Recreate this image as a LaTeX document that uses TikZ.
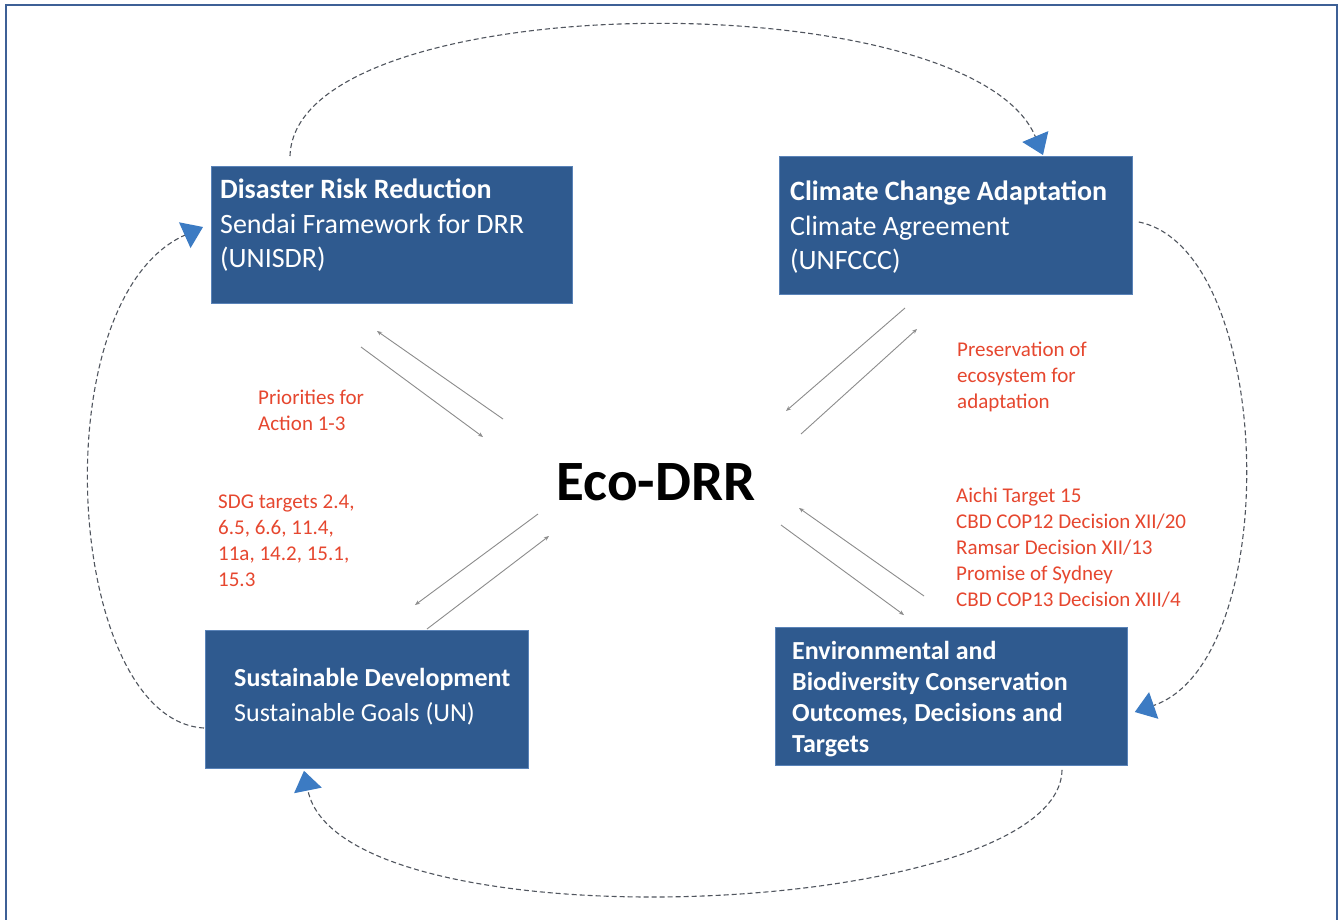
\documentclass[tikz,border=0pt]{standalone}
\usepackage{fontspec}
\setmainfont{Carlito}
\usetikzlibrary{arrows.meta,calc}
\definecolor{boxblue}{HTML}{2F5A8F}
\definecolor{boxedge}{HTML}{5A83B8}
\definecolor{framecol}{HTML}{3D6096}
\definecolor{redtxt}{HTML}{E6472F}
\definecolor{tipblue}{HTML}{3C7BC3}
\definecolor{dashcol}{HTML}{50555E}
\definecolor{graycon}{HTML}{8C8C8C}
\begin{document}
\begin{tikzpicture}[x=1pt,y=-1pt,
  box/.style={draw=boxedge, line width=0.8pt, fill=boxblue, anchor=north west, inner sep=0pt},
  btext/.style={text=white, anchor=north west, inner sep=0pt, align=left, font=\fontsize{28}{34.5}\selectfont},
  stext/.style={text=white, anchor=north west, inner sep=0pt, align=left, font=\fontsize{26}{35}\selectfont},
  etext/.style={text=white, anchor=north west, inner sep=0pt, align=left, font=\bfseries\fontsize{26}{31}\selectfont},
  redlab/.style={text=redtxt, anchor=north west, inner sep=0pt, align=left, font=\fontsize{21}{26}\selectfont},
  cyc/.style={draw=dashcol, line width=1.1pt, dash pattern=on 5pt off 3pt, -{Triangle[length=20pt,width=28pt,color=tipblue]}},
  link/.style={draw=graycon, line width=0.9pt, -{Stealth[length=5pt,width=4pt]}},
]
\useasboundingbox (0,0) rectangle (1341,919);
\fill[white] (0,0) rectangle (1341,919);
\draw[framecol, line width=1.6pt] (6,930) -- (6,5) -- (1337,5) -- (1337,930);

% boxes
\node[box, minimum width=361pt, minimum height=137pt] (drr) at (211,166) {};
\node[box, minimum width=353pt, minimum height=138pt] (cca) at (779,156) {};
\node[box, minimum width=323pt, minimum height=138pt] (sd) at (205,630) {};
\node[box, minimum width=352pt, minimum height=138pt] (env) at (775,627) {};

\node[btext] (drrt) at ([shift={(9,13)}]drr.north west) {\textbf{Disaster Risk Reduction}\\Sendai Framework for DRR\\(UNISDR)};
\node[btext] (ccat) at ([shift={(11,25)}]cca.north west) {\textbf{Climate Change Adaptation}\\Climate Agreement\\(UNFCCC)};
\node[stext] (sdt) at ([shift={(29,38)}]sd.north west) {\textbf{Sustainable Development}\\Sustainable Goals (UN)};
\node[etext] (envt) at ([shift={(17,14)}]env.north west) {Environmental and\\Biodiversity Conservation\\Outcomes, Decisions and\\Targets};

% centre
\node[font=\bfseries\fontsize{57}{60}\selectfont] (eco) at (656,482) {Eco-DRR};

% red labels
\node[redlab] (l1) at (258,390) {Priorities for\\Action 1-3};
\node[redlab] (l2) at (218,495) {SDG targets 2.4,\\6.5, 6.6, 11.4,\\11a, 14.2, 15.1,\\15.3};
\node[redlab] (l3) at (957,342) {Preservation of\\ecosystem for\\adaptation};
\node[redlab] (l4) at (956,488) {Aichi Target 15\\CBD COP12 Decision XII/20\\Ramsar Decision XII/13\\Promise of Sydney\\CBD COP13 Decision XIII/4};

% gray connector end points
\coordinate (a1s) at (503,419); \coordinate (a1e) at (377,331);
\coordinate (b1s) at (361,347); \coordinate (b1e) at (483,437);
\coordinate (a2s) at (905,308); \coordinate (a2e) at (786,411);
\coordinate (b2s) at (801,434); \coordinate (b2e) at (917,329);
\coordinate (a3s) at (538,514); \coordinate (a3e) at (415,605);
\coordinate (b3s) at (427,629); \coordinate (b3e) at (549,536);
\coordinate (a4s) at (924,596); \coordinate (a4e) at (799,508);
\coordinate (b4s) at (781,525); \coordinate (b4e) at (904,615);
\draw[link] (a1s) -- (a1e);
\draw[link] (b1s) -- (b1e);
\draw[link] (a2s) -- (a2e);
\draw[link] (b2s) -- (b2e);
\draw[link] (a3s) -- (a3e);
\draw[link] (b3s) -- (b3e);
\draw[link] (a4s) -- (a4e);
\draw[link] (b4s) -- (b4e);

% cycle curves
\coordinate (c1s) at ([shift={(79,-10)}]drr.north west);
\coordinate (c1e) at ([shift={(264,-1)}]cca.north west);
\coordinate (c2s) at ([shift={(6,66)}]cca.north east);
\coordinate (c2e) at ([shift={(7,85)}]env.north east);
\coordinate (c3s) at ([shift={(287,4)}]env.south west);
\coordinate (c3e) at ([shift={(99,2)}]sd.south west);
\coordinate (c4s) at ([shift={(-1,98)}]sd.north west);
\coordinate (c4e) at ([shift={(-8,61)}]drr.north west);
\draw[cyc] (c1s) .. controls (295,-15) and (970,-20) .. (c1e);
\draw[cyc] (c2s) .. controls (1275,250) and (1285,660) .. (c2e);
\draw[cyc] (c3s) .. controls (1060,920) and (340,950) .. (c3e);
\draw[cyc] (c4s) .. controls (65,720) and (40,300) .. (c4e);
\end{tikzpicture}
\end{document}
